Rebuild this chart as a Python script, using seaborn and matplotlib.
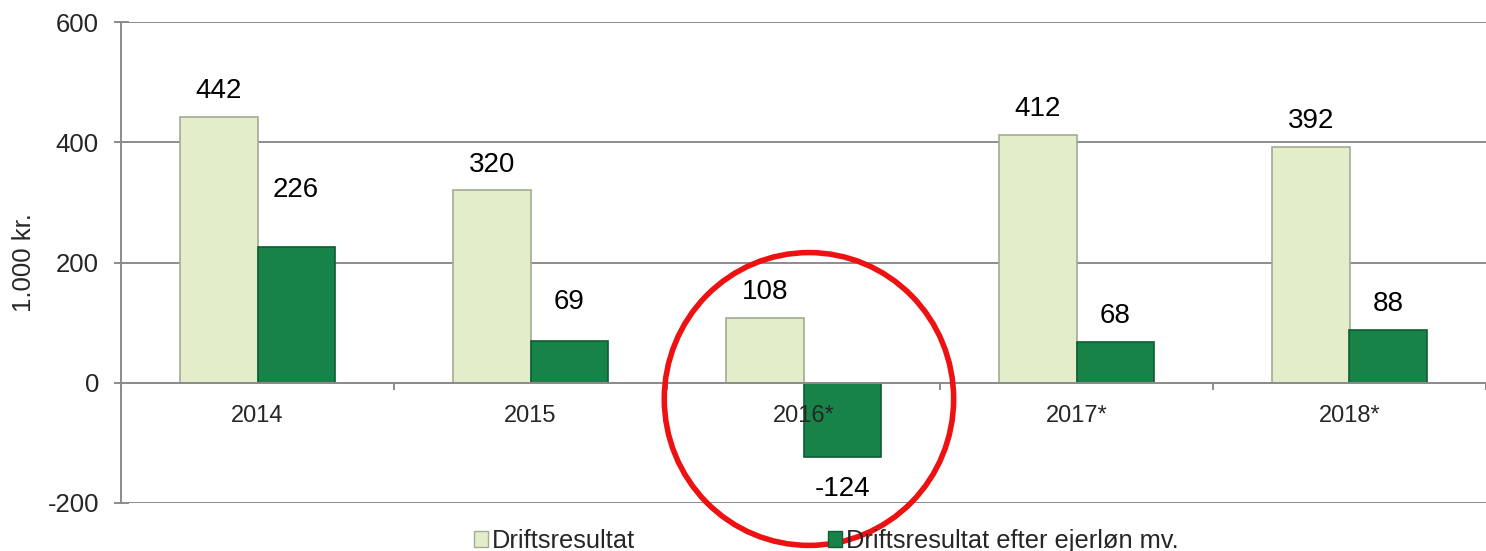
import pandas as pd
import matplotlib.pyplot as plt
import seaborn as sns
from matplotlib.patches import Ellipse, Patch

sns.set_theme(style="white")
plt.rcParams['font.family'] = ['Liberation Sans', 'DejaVu Sans']

# Data (1.000 kr.)
aar = ['2014', '2015', '2016*', '2017*', '2018*']
driftsresultat = [442, 320, 108, 412, 392]
efter_ejerlon = [226, 69, -124, 68, 88]
serier = ['Driftsresultat', 'Driftsresultat efter ejerløn mv.']
y_ticks = [-200, 0, 200, 400, 600]

df = pd.DataFrame({
    'aar': aar * 2,
    'vaerdi': driftsresultat + efter_ejerlon,
    'serie': [serier[0]] * len(aar) + [serier[1]] * len(aar),
})

farver = ['#E3EDC9', '#178349']
kanter = ['#A3AB92', '#0F5C33']
grid_farve = '#8C8C8C'

fig = plt.figure(figsize=(14.86, 5.51), dpi=100)
ax = fig.add_axes([121 / 1486, 1 - 503 / 551, (1486 - 121) / 1486, (503 - 22) / 551])

sns.barplot(data=df, x='aar', y='vaerdi', hue='serie', palette=farver,
            width=0.566, ax=ax, legend=False, saturation=1, zorder=2)
ax.set_axisbelow(False)

# kantfarve pr. serie
for container, kant in zip(ax.containers, kanter):
    for bar in container:
        bar.set_edgecolor(kant)
        bar.set_linewidth(1.2)

# vandrette gitterlinjer under søjlerne
for t in y_ticks:
    ax.axhline(t, color=grid_farve, lw=1.4, zorder=0)

ax.set_ylim(-200, 600)
ax.set_xlim(-0.5, 4.446)
ax.set_yticks(y_ticks)
ax.set_yticklabels([str(t) for t in y_ticks], fontsize=18.5)
ax.tick_params(axis='y', length=10.8, width=1.4, color=grid_farve, pad=10.5,
               direction='inout', left=True)
ax.set_ylabel('1.000 kr.', fontsize=18.5, labelpad=8)
ax.set_xlabel('')

# kategoriaksen ligger ved 0
ax.spines['bottom'].set_position(('data', 0))
ax.spines['bottom'].set_color(grid_farve)
ax.spines['bottom'].set_linewidth(1.4)
ax.spines['left'].set_color(grid_farve)
ax.spines['left'].set_linewidth(1.4)
ax.spines['top'].set_visible(False)
ax.spines['right'].set_visible(False)
ax.tick_params(axis='x', which='major', length=0, pad=16, labelsize=17)
ax.set_xticks([i + 0.5 for i in range(-1, len(aar))], minor=True)
ax.tick_params(axis='x', which='minor', length=5, width=1.4, color=grid_farve,
               direction='out', bottom=True)

# dataetiketter
special = {(0, 1): 41, (1, 1): 28.5}
for s, container in enumerate(ax.containers):
    for i, bar in enumerate(container):
        v = bar.get_height()
        x = bar.get_x() + bar.get_width() / 2
        off = special.get((i, s), 18.5)
        if v < 0:
            off = -22.5
        ax.annotate(f'{v:.0f}', (x, v), xytext=(0, off), textcoords='offset points',
                    ha='center', va='center', fontsize=20, color='black', zorder=4)

# rød ring om 2016
ring = Ellipse((2.02, -27), 1.06, 487, fill=False, edgecolor='#EE1111', lw=4,
               clip_on=False, zorder=5)
ax.add_patch(ring)

handles = [Patch(facecolor=farver[k], edgecolor=kanter[k], lw=1) for k in range(2)]
fig.legend(handles, serier, loc='center', bbox_to_anchor=(826 / 1486, 1 - 541 / 551),
           ncol=2, frameon=False, fontsize=18.3, handlelength=0.55, handleheight=0.55,
           handletextpad=0.15, columnspacing=7.6, borderaxespad=0, borderpad=0)

fig.savefig('out.png', dpi=100)
